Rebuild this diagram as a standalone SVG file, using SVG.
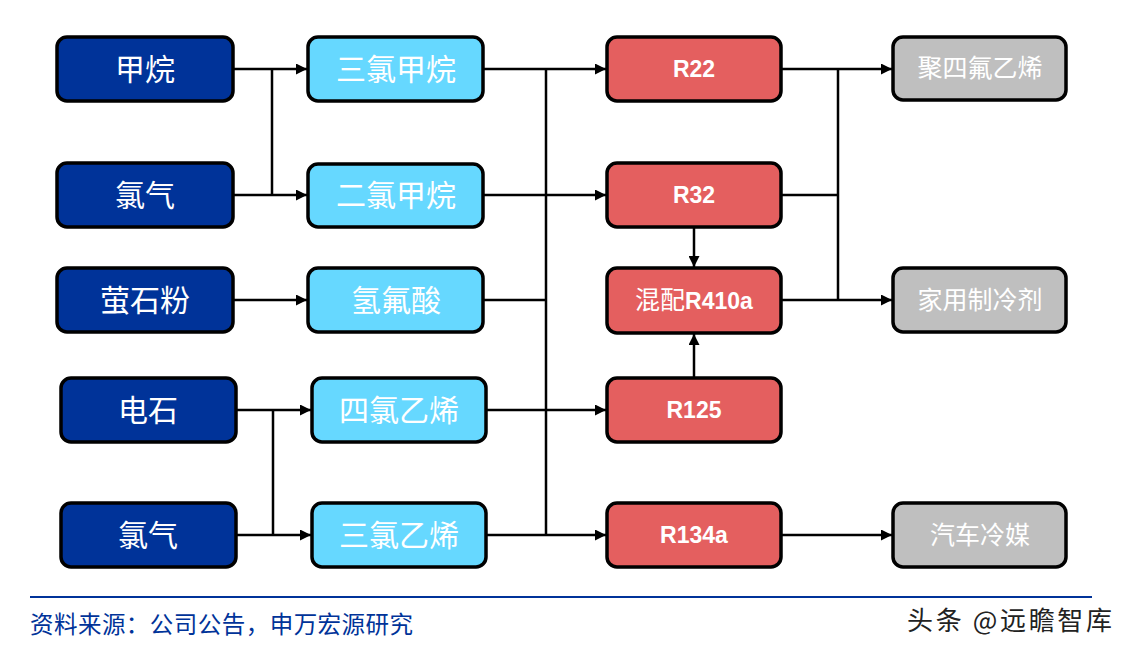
<svg xmlns="http://www.w3.org/2000/svg" width="1132" height="653" viewBox="0 0 1132 653">
<defs>
<style>
.box{stroke:#000;stroke-width:3.5}
.db{fill:#003399}
.lb{fill:#66d8ff}
.rd{fill:#e45f5f}
.gy{fill:#bfbfbf}
.cn{font-family:"Noto Sans CJK SC",sans-serif;fill:#fff;text-anchor:middle;font-size:30px}
.cg{font-family:"Noto Sans CJK SC",sans-serif;fill:#fff;text-anchor:middle;font-size:25px}
.en{font-family:"Liberation Sans",Arial,sans-serif;font-weight:bold;fill:#fff;text-anchor:middle;font-size:23px}
.ln{fill:none;stroke:#000;stroke-width:2.5}
</style>
<marker id="ah" viewBox="0 0 10 10" refX="10" refY="5" markerWidth="13" markerHeight="11" markerUnits="userSpaceOnUse" orient="auto">
<path d="M0,0 L10,5 L0,10 Z" fill="#000"/>
</marker>
</defs>
<rect width="1132" height="653" fill="#fff"/>
<g id="connectors">
<path class="ln" d="M233,69 H272 M272,69 V195" />
<path class="ln" d="M272,69 H307" marker-end="url(#ah)"/>
<path class="ln" d="M233,195 H307" marker-end="url(#ah)"/>
<path class="ln" d="M233,300 H307" marker-end="url(#ah)"/>
<path class="ln" d="M236,410 H273 M273,410 V535" />
<path class="ln" d="M273,410 H311" marker-end="url(#ah)"/>
<path class="ln" d="M236,535 H311" marker-end="url(#ah)"/>
<path class="ln" d="M483,69 H546 M546,69 V535 M483,300 H546" />
<path class="ln" d="M546,69 H606" marker-end="url(#ah)"/>
<path class="ln" d="M483,195 H606" marker-end="url(#ah)"/>
<path class="ln" d="M486,410 H606" marker-end="url(#ah)"/>
<path class="ln" d="M486,535 H606" marker-end="url(#ah)"/>
<path class="ln" d="M694,227 V267" marker-end="url(#ah)"/>
<path class="ln" d="M694,378 V334" marker-end="url(#ah)"/>
<path class="ln" d="M781,69 H838 M838,69 V300 M781,195 H838" />
<path class="ln" d="M838,69 H892" marker-end="url(#ah)"/>
<path class="ln" d="M781,300 H892" marker-end="url(#ah)"/>
<path class="ln" d="M781,535 H892" marker-end="url(#ah)"/>
</g>
<g id="n-jiawan"><rect class="box db" x="57" y="37" width="176" height="64" rx="10"/><text class="cn" x="145" y="80">甲烷</text></g>
<g id="n-lvqi1"><rect class="box db" x="57" y="163" width="176" height="64" rx="10"/><text class="cn" x="145" y="206">氯气</text></g>
<g id="n-yingshifen"><rect class="box db" x="57" y="268" width="176" height="64" rx="10"/><text class="cn" x="145" y="311">萤石粉</text></g>
<g id="n-dianshi"><rect class="box db" x="61" y="378" width="175" height="64" rx="10"/><text class="cn" x="148" y="421">电石</text></g>
<g id="n-lvqi2"><rect class="box db" x="61" y="503" width="175" height="64" rx="10"/><text class="cn" x="148" y="546">氯气</text></g>
<g id="n-sanlvjiawan"><rect class="box lb" x="308" y="37" width="175" height="64" rx="10"/><text class="cn" x="396" y="80">三氯甲烷</text></g>
<g id="n-erlvjiawan"><rect class="box lb" x="308" y="164" width="175" height="63" rx="10"/><text class="cn" x="396" y="206">二氯甲烷</text></g>
<g id="n-qingfusuan"><rect class="box lb" x="308" y="268" width="175" height="64" rx="10"/><text class="cn" x="396" y="311">氢氟酸</text></g>
<g id="n-silvyixi"><rect class="box lb" x="312" y="378" width="174" height="64" rx="10"/><text class="cn" x="399" y="421">四氯乙烯</text></g>
<g id="n-sanlvyixi"><rect class="box lb" x="312" y="503" width="174" height="64" rx="10"/><text class="cn" x="399" y="546">三氯乙烯</text></g>
<g id="n-r22"><rect class="box rd" x="607" y="37" width="174" height="64" rx="10"/><text class="en" x="694" y="77">R22</text></g>
<g id="n-r32"><rect class="box rd" x="607" y="163" width="174" height="64" rx="10"/><text class="en" x="694" y="203">R32</text></g>
<g id="n-r410a"><rect class="box rd" x="607" y="268" width="174" height="65" rx="10"/><text x="694" y="309" text-anchor="middle" fill="#fff"><tspan font-family="Noto Sans CJK SC,sans-serif" font-size="25">混配</tspan><tspan font-family="Liberation Sans,Arial,sans-serif" font-weight="bold" font-size="23">R410a</tspan></text></g>
<g id="n-r125"><rect class="box rd" x="607" y="378" width="174" height="64" rx="10"/><text class="en" x="694" y="418">R125</text></g>
<g id="n-r134a"><rect class="box rd" x="607" y="503" width="174" height="64" rx="10"/><text class="en" x="694" y="543">R134a</text></g>
<g id="n-jusifuyixi"><rect class="box gy" x="893" y="37" width="173" height="63" rx="10"/><text class="cg" x="980" y="77">聚四氟乙烯</text></g>
<g id="n-jiayong"><rect class="box gy" x="893" y="268" width="173" height="64" rx="10"/><text class="cg" x="980" y="309">家用制冷剂</text></g>
<g id="n-qiche"><rect class="box gy" x="893" y="503" width="173" height="64" rx="10"/><text class="cg" x="980" y="544">汽车冷媒</text></g>
<g id="footer">
<line x1="30" y1="597" x2="1092" y2="597" stroke="#003399" stroke-width="2"/>
<text x="30" y="633" font-family="Noto Sans CJK SC,sans-serif" font-size="23.5" fill="#003399" textLength="383" lengthAdjust="spacing">资料来源：公司公告，申万宏源研究</text>
<text x="907" y="630" font-family="Noto Sans CJK SC,sans-serif" font-size="26" fill="#222" textLength="205" lengthAdjust="spacing">头条 @远瞻智库</text>
</g>
</svg>
